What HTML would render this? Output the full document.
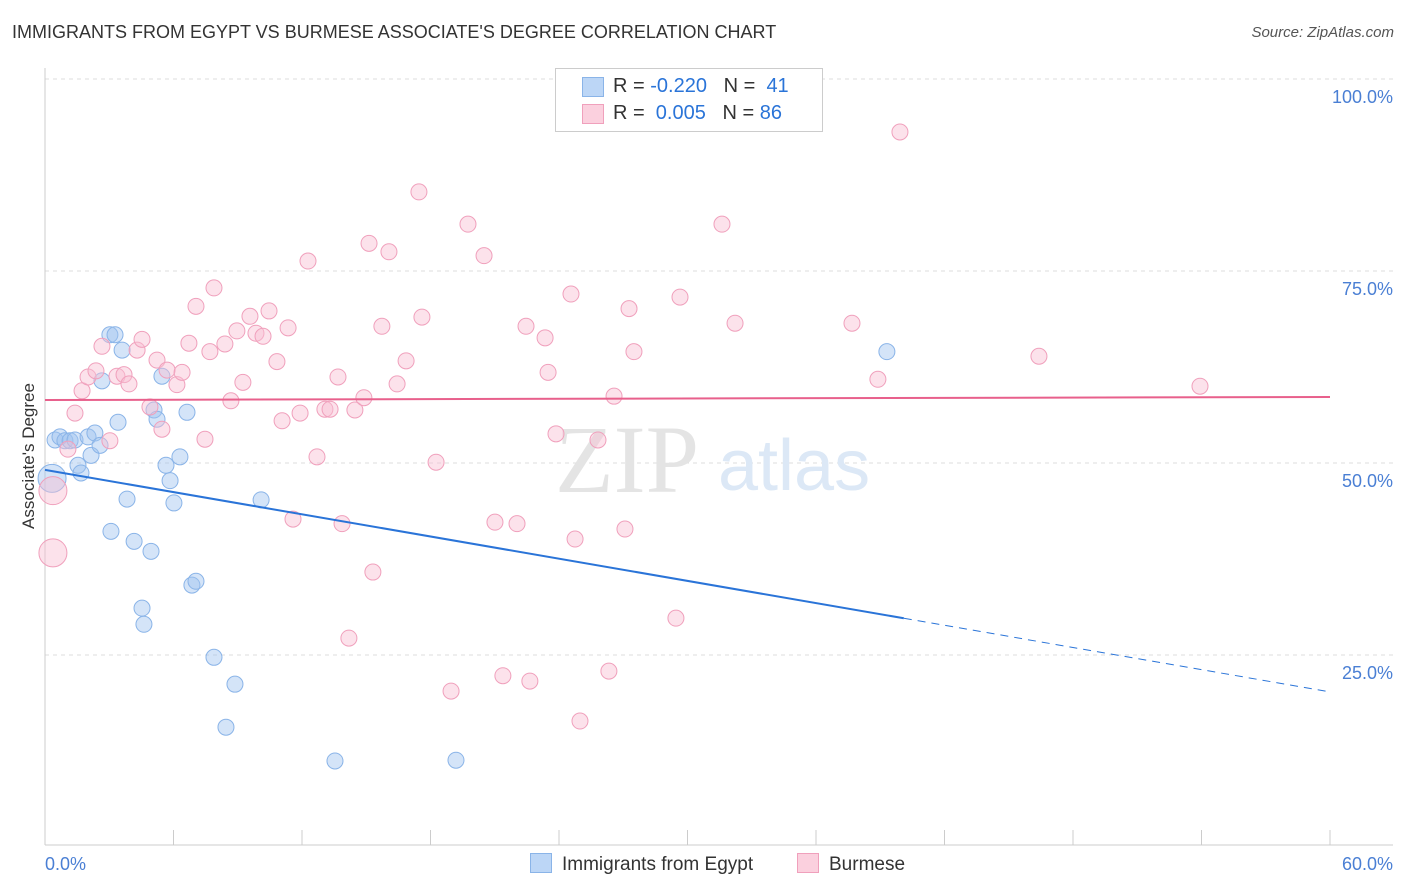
<!DOCTYPE html>
<html><head><meta charset="utf-8"><style>
body{margin:0;background:#fff;font-family:"Liberation Sans",sans-serif;}
#wrap{position:relative;width:1406px;height:892px;overflow:hidden;}
.t{position:absolute;white-space:nowrap;}
</style></head><body>
<div id="wrap">
<div class="t" style="left:12px;top:22px;font-size:18px;color:#333;">IMMIGRANTS FROM EGYPT VS BURMESE ASSOCIATE'S DEGREE CORRELATION CHART</div>
<div class="t" style="right:12px;top:24px;font-size:15px;color:#555;font-style:italic;">Source: ZipAtlas.com</div>
<svg id="svg" width="1406" height="892" style="position:absolute;left:0;top:0"></svg>
</div>
<script>
const xTicks=[0,6,12,18,24,30,36,42,48,54,60];
const yTicks=[25,50,75,100];
const blueX=[0.47,0.70,0.93,1.17,1.40,0.33,2.01,2.33,2.15,2.57,1.54,1.68,2.66,3.03,3.27,3.60,3.41,3.83,3.08,4.16,4.95,4.53,4.62,5.09,5.23,5.46,6.63,5.65,5.84,6.02,6.30,6.86,7.05,7.89,8.87,8.45,10.09,13.54,19.19,39.31];
const blueY=[53.0,53.4,52.9,52.9,53.0,48.0,53.4,53.9,51.0,52.3,49.7,48.7,60.7,66.7,66.7,64.7,55.3,45.3,41.1,39.8,38.5,31.1,29.0,56.9,55.7,61.3,56.6,49.7,47.7,44.8,50.8,34.1,34.6,24.7,21.2,15.6,45.2,11.2,11.3,64.5];
const blueBig=[5];
const pinkX=[0.37,0.37,1.07,1.40,1.73,2.01,2.38,2.66,3.03,3.36,3.69,3.92,4.30,4.53,4.90,5.23,5.46,5.70,6.16,6.40,6.72,7.05,7.47,7.70,7.89,8.40,8.68,8.96,9.24,9.57,9.85,10.18,10.46,10.83,11.07,11.35,11.58,11.91,12.28,12.70,13.07,13.31,13.68,13.87,14.19,14.47,14.89,15.13,15.31,15.73,16.06,16.44,16.86,17.46,17.60,18.26,18.96,19.75,20.50,21.01,21.38,22.04,22.46,22.64,23.35,23.49,23.86,24.56,24.75,24.98,25.82,26.33,26.57,27.08,27.27,27.50,29.46,29.65,31.61,32.22,37.68,38.89,39.92,46.41,53.93];
const pinkY=[46.4,38.3,51.8,56.5,59.4,61.2,62.0,65.2,52.9,61.3,61.5,60.3,64.7,66.1,57.3,63.4,54.4,62.1,60.2,61.8,65.6,70.4,53.1,64.5,72.8,65.5,58.1,67.2,60.5,69.1,66.9,66.5,69.8,63.2,55.5,67.6,42.7,56.5,76.3,50.8,57.0,57.0,61.2,42.1,27.2,56.9,58.5,78.6,35.8,67.8,77.5,60.3,63.3,85.3,69.0,50.1,20.3,81.1,77.0,42.3,22.3,42.1,67.8,21.6,66.3,61.8,53.8,72.0,40.1,16.4,53.0,22.9,58.7,41.4,70.1,64.5,29.8,71.6,81.1,68.2,68.2,60.9,93.1,63.9,60.0];
const pinkBig=[0,1];
const blueTrend=[49.1,20.2], blueSolidEnd=40.1;
const pinkTrend=[58.2,58.6];
const X=v=>45+v/60*1285, Y=v=>847-v*7.68;
const svg=document.getElementById('svg');const NS='http://www.w3.org/2000/svg';
function mk(t,a){const e=document.createElementNS(NS,t);for(const k in a)e.setAttribute(k,a[k]);svg.appendChild(e);return e;}
yTicks.forEach(v=>{const l=mk('line',{x1:45,x2:1393,y1:Y(v),y2:Y(v),stroke:'#ddd','stroke-dasharray':'4,4'});


const t=mk('text',{x:1393,y:Y(v)+24,'text-anchor':'end','font-size':18,fill:'#4a7fd4'});t.textContent=v.toFixed(1)+'%';

});
mk('line',{x1:45,x2:1393,y1:79,y2:79,stroke:'#ddd','stroke-dasharray':'4,4'});
mk('line',{x1:45,x2:45,y1:68,y2:845,stroke:'#ccc'});
mk('line',{x1:45,x2:1393,y1:845,y2:845,stroke:'#ccc'});
xTicks.forEach(v=>{const l=mk('line',{x1:X(v),x2:X(v),y1:830,y2:845,stroke:'#ccc'});

});
let t0=mk('text',{x:45,y:870,'font-size':18,fill:'#4a7fd4'});t0.textContent='0.0%';


let t1=mk('text',{x:1393,y:870,'text-anchor':'end','font-size':18,fill:'#4a7fd4'});t1.textContent='60.0%';


let yt=mk('text',{x:34,y:456,'text-anchor':'middle','font-size':17,fill:'#333',transform:'rotate(-90 34 456)'});yt.textContent="Associate's Degree";


let w1=mk('text',{x:555,y:492,'font-size':96,fill:'#e4e4e4','font-family':'Liberation Serif'});w1.textContent='ZIP';


let w2=mk('text',{x:718,y:490,'font-size':72,fill:'#dce8f6'});w2.textContent='atlas';


blueX.forEach((x,i)=>{const big=blueBig.includes(i);const c=mk('circle',{cx:X(x),cy:Y(blueY[i]),r:big?14:8,fill:'rgba(160,196,240,0.45)',stroke:'#8ab4e8','stroke-width':1});

});
pinkX.forEach((x,i)=>{const big=pinkBig.includes(i);const c=mk('circle',{cx:X(x),cy:Y(pinkY[i]),r:big?14:8,fill:'rgba(248,190,210,0.45)',stroke:'#f0a0bc','stroke-width':1});

});
const by=x=>blueTrend[0]+(blueTrend[1]-blueTrend[0])*x/60;
let b1=mk('line',{x1:X(0),y1:Y(by(0)),x2:X(blueSolidEnd),y2:Y(by(blueSolidEnd)),stroke:'#2a74d8','stroke-width':2});


let b2=mk('line',{x1:X(blueSolidEnd),y1:Y(by(blueSolidEnd)),x2:X(60),y2:Y(by(60)),stroke:'#2a74d8','stroke-width':1,'stroke-dasharray':'8,6'});


let p1=mk('line',{x1:X(0),y1:Y(pinkTrend[0]),x2:X(60),y2:Y(pinkTrend[1]),stroke:'#e8608c','stroke-width':2});


</script>
<div class="t" style="left:555px;top:68px;width:266px;height:62px;border:1px solid #ccc;background:#fff;font-size:20px;color:#333;">
<div style="position:absolute;left:26px;top:8px;width:20px;height:18px;background:#bcd6f6;border:1px solid #8ab4e8"></div>
<div style="position:absolute;left:57px;top:6px">R = <span style="color:#2a74d8">-0.220</span>&nbsp;&nbsp;&nbsp;N = &nbsp;<span style="color:#2a74d8">41</span></div>
<div style="position:absolute;left:26px;top:35px;width:20px;height:18px;background:#fbd0de;border:1px solid #f0a0bc"></div>
<div style="position:absolute;left:57px;top:33px">R = &nbsp;<span style="color:#2a74d8">0.005</span>&nbsp;&nbsp;&nbsp;N = <span style="color:#2a74d8">86</span></div>
</div>
<div class="t" style="left:530px;top:853px;font-size:19px;color:#333"><span style="display:inline-block;width:20px;height:18px;background:#bcd6f6;border:1px solid #8ab4e8;vertical-align:-3px;margin-right:10px"></span>Immigrants from Egypt</div>
<div class="t" style="left:797px;top:853px;font-size:19px;color:#333"><span style="display:inline-block;width:20px;height:18px;background:#fbd0de;border:1px solid #f0a0bc;vertical-align:-3px;margin-right:10px"></span>Burmese</div>
</body></html>
